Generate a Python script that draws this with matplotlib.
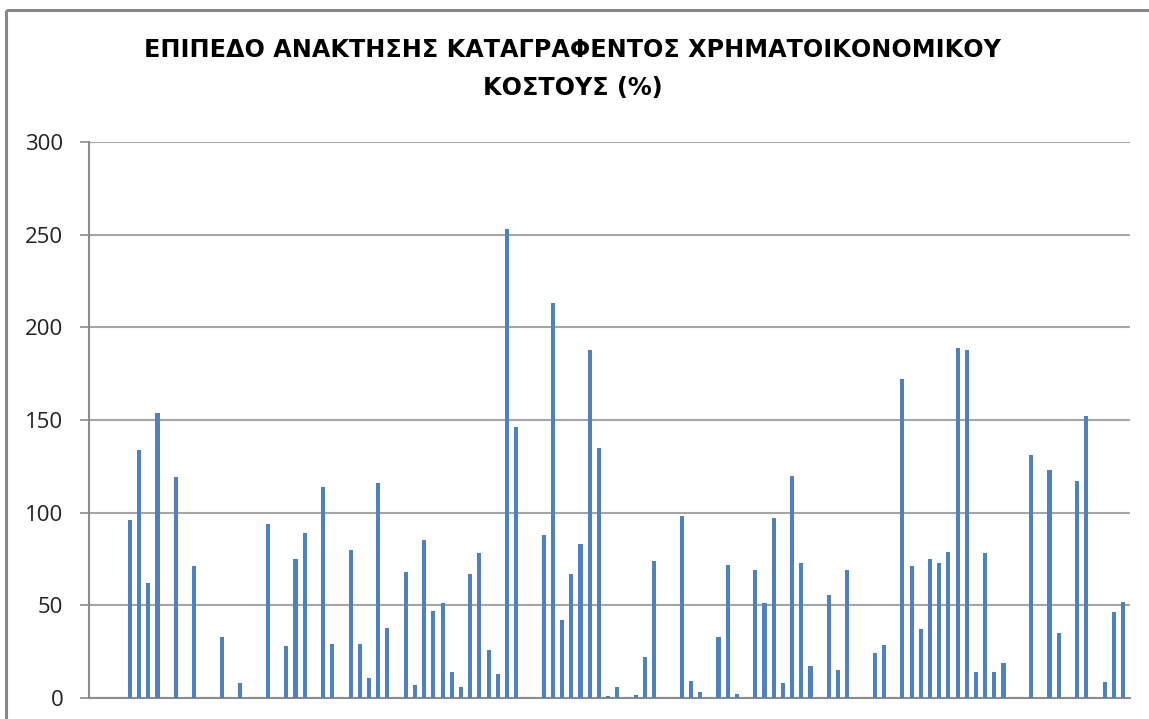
import numpy as np
import matplotlib
matplotlib.use("Agg")
import matplotlib.pyplot as plt
from matplotlib.lines import Line2D

# Recovery level of recorded financial cost, one value per category slot (0 = no bar)
TITLE_LINES = ["ΕΠΙΠΕΔΟ ΑΝΑΚΤΗΣΗΣ ΚΑΤΑΓΡΑΦΕΝΤΟΣ ΧΡΗΜΑΤΟΙΚΟΝΟΜΙΚΟΥ", "ΚΟΣΤΟΥΣ (%)"]
values = [
    96, 134, 62, 154, 0, 119, 0, 71, 0, 0,
    33, 0, 8, 0, 0, 94, 0, 28, 75, 89,
    0, 114, 29, 0, 80, 29, 11, 116, 38, 0,
    68, 7, 85, 47, 51, 14, 6, 67, 78, 26,
    13, 253, 146, 0, 0, 88, 213, 42, 67, 83,
    188, 135, 1, 6, 0, 1.5, 22, 74, 0, 0,
    98, 9, 3, 0, 33, 72, 2, 0, 69, 51.5,
    97, 8, 120, 73, 17, 0, 55.5, 15, 69, 0,
    0, 24.5, 28.5, 0, 172, 71, 37, 75, 73, 79,
    189, 188, 14, 78, 14, 19, 0, 0, 131, 0,
    123, 35, 0, 117, 152, 0, 8.5, 46.5, 52,
]
y_ticks = [0, 50, 100, 150, 200, 250, 300]

BAR_COLOR = "#4F81BD"
GRID_COLOR = "#A6A6A6"
AXIS_COLOR = "#8C8C8C"

W, H = 1149, 719
fig = plt.figure(figsize=(W / 100, H / 100), dpi=100)

# axes placed in pixel terms of the reference
left, right, top, bottom = 89, 1130, 142, 698
ax = fig.add_axes([left / W, 1 - bottom / H, (right - left) / W, (bottom - top) / H])

x = np.arange(len(values))
ax.bar(x, values, width=0.45, color=BAR_COLOR, zorder=3)

ax.set_xlim(-4.45, 108.75)
ax.set_ylim(0, 300)
ax.set_yticks(y_ticks)
ax.set_xticks([])
ax.yaxis.grid(True, color=GRID_COLOR, linewidth=1.5, zorder=0)
ax.set_axisbelow(True)

for side in ["top", "right"]:
    ax.spines[side].set_visible(False)
for side in ["left", "bottom"]:
    ax.spines[side].set_color(AXIS_COLOR)
    ax.spines[side].set_linewidth(1.5)

ax.tick_params(axis="y", direction="out", length=6.5, width=1.2, color=AXIS_COLOR,
               pad=12, labelsize=16, labelcolor="#222222")
for lbl in ax.get_yticklabels():
    lbl.set_fontfamily("Open Sans")

# two-line title
for text, ypix in zip(TITLE_LINES, [50, 88]):
    fig.text(0.4985, 1 - ypix / H, text, ha="center", va="center", fontsize=17.2,
             fontweight="bold", family="DejaVu Sans", color="black")

# chart area border (only left and top visible in the crop)
bx, by = 6 / W, 1 - 10 / H
fig.lines.append(Line2D([bx, bx], [-0.01, by], transform=fig.transFigure,
                        color="#878787", linewidth=2.2, solid_capstyle="butt"))
fig.lines.append(Line2D([bx, 1.01], [by, by], transform=fig.transFigure,
                        color="#878787", linewidth=2.2, solid_capstyle="butt"))

fig.savefig("out.png", dpi=100, facecolor="white")
